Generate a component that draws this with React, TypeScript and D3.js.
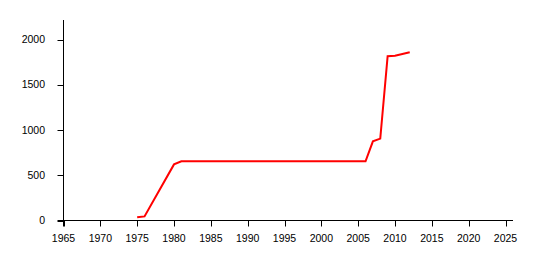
import React from "react";
import * as d3 from "d3";

const years = [1975, 1976, 1980, 1981, 2006, 2007, 2008, 2009, 2010, 2011, 2012];
const values = [35, 45, 620, 655, 655, 875, 905, 1815, 1820, 1840, 1860];
const xTicks = [1965, 1970, 1975, 1980, 1985, 1990, 1995, 2000, 2005, 2010, 2015, 2020, 2025];
const yTicks = [0, 500, 1000, 1500, 2000];

const W = 541, H = 261;
const x0 = 63.5, yBase = 220.5;

export default function App() {
  const x = d3.scaleLinear().domain([1965, 2025]).range([x0, 505.5]);
  const y = d3.scaleLinear().domain([0, 2000]).range([yBase, 39.5]);
  const line = d3.line<number>().x((_, i) => x(years[i])).y((d) => y(d));
  const font = "'Liberation Sans', Arial, sans-serif";
  return (
    <svg width={W} height={H} style={{ position: "absolute", left: 0, top: 0, background: "#fff" }}>
      <line x1={x0} x2={x0} y1={20} y2={yBase + 6} stroke="#000" strokeWidth={1} />
      <line x1={x0 - 6} x2={513} y1={yBase} y2={yBase} stroke="#000" strokeWidth={1} />
      {yTicks.map((t) => (
        <g key={t}>
          <line x1={x0 - 6} x2={x0} y1={Math.round(y(t)) + 0.5} y2={Math.round(y(t)) + 0.5} stroke="#000" />
          <text x={45} y={y(t)} dy="0.35em" textAnchor="end" fontFamily={font} fontSize={10.5} fill="#000">
            {t}
          </text>
        </g>
      ))}
      {xTicks.map((t) => (
        <g key={t}>
          <line x1={Math.round(x(t)) + 0.5} x2={Math.round(x(t)) + 0.5} y1={yBase} y2={yBase + 6} stroke="#000" />
          <text x={x(t)} y={238} dy="0.35em" textAnchor="middle" fontFamily={font} fontSize={10.5} fill="#000">
            {t}
          </text>
        </g>
      ))}
      <path d={line(values) || ""} fill="none" stroke="#ff0000" strokeWidth={2} strokeLinejoin="miter" />
    </svg>
  );
}
